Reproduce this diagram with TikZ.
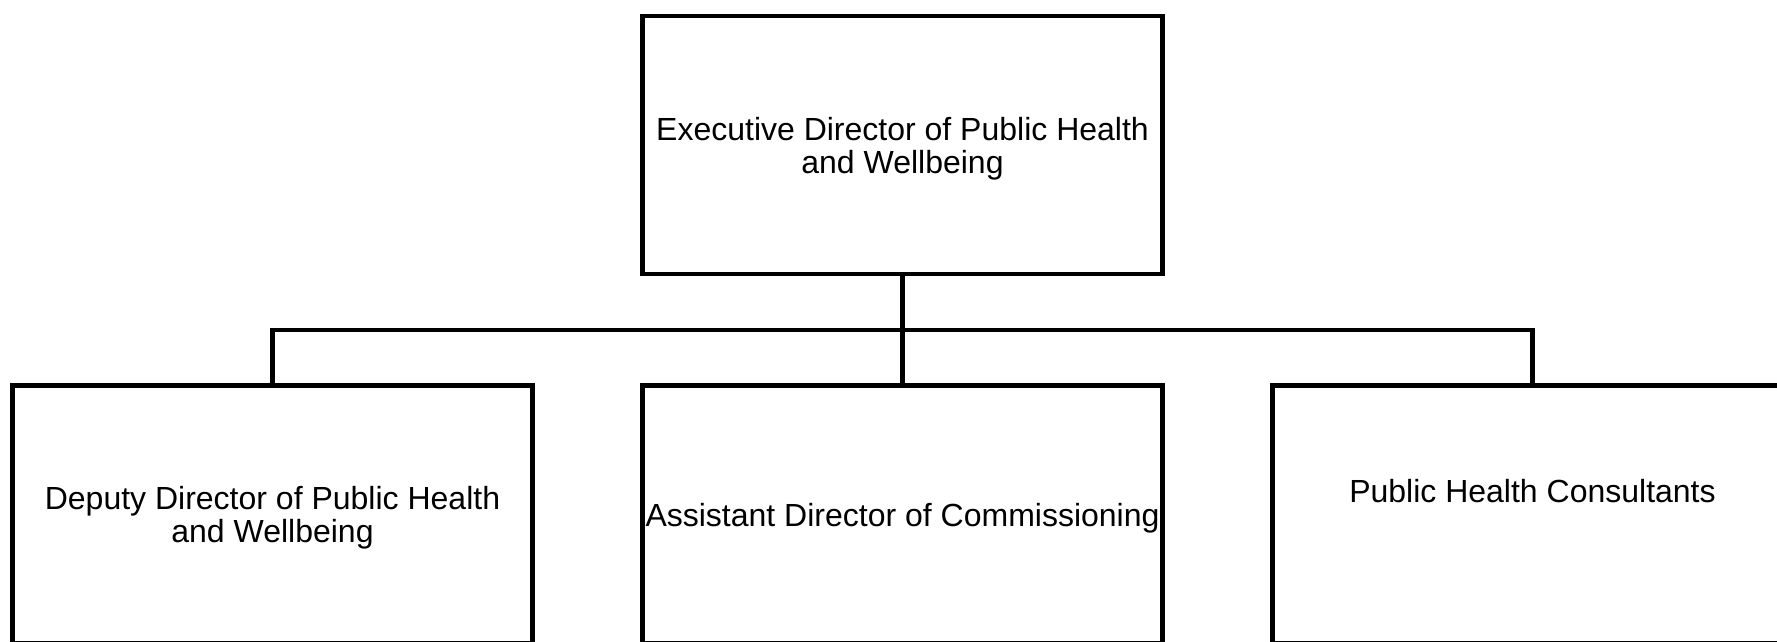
\documentclass[tikz,border=0pt]{standalone}
\usepackage{fontspec}
\setmainfont{Liberation Sans}
\begin{document}
\begin{tikzpicture}[x=1pt,y=-1pt,
  orgbox/.style={draw=black,line width=4.6pt,minimum width=520pt,minimum height=258pt,inner sep=0pt},
  conn/.style={draw=black,line width=4.6pt},
  lbl/.style={inner sep=0pt,align=center,font=\fontsize{32}{33}\selectfont}]
\clip (0,0) rectangle (1777,641);
\fill[white] (0,0) rectangle (1777,641);
\node[orgbox] (top) at (902.5,145) {};
\node[orgbox] (left) at (272.5,514.5) {};
\node[orgbox] (mid) at (902.5,514.5) {};
\node[orgbox] (right) at (1532.5,514.5) {};
\node[lbl] (toplbl) at ([yshift=-3.4pt]top.center) {Executive Director of Public Health\\and Wellbeing};
\node[lbl] (leftlbl) at ([yshift=-3.4pt]left.center) {Deputy Director of Public Health\\and Wellbeing};
\node[lbl] (midlbl) at ([yshift=-3.4pt]mid.center) {Assistant Director of Commissioning};
\node[lbl] (rightlbl) at ([yshift=23.5pt]right.center) {Public Health Consultants};
\coordinate (bar) at (902.5,330);
\draw[conn] (top.south) -- (mid.north);
\draw[conn] (left.north) |- (bar) -| (right.north);
\end{tikzpicture}
\end{document}
